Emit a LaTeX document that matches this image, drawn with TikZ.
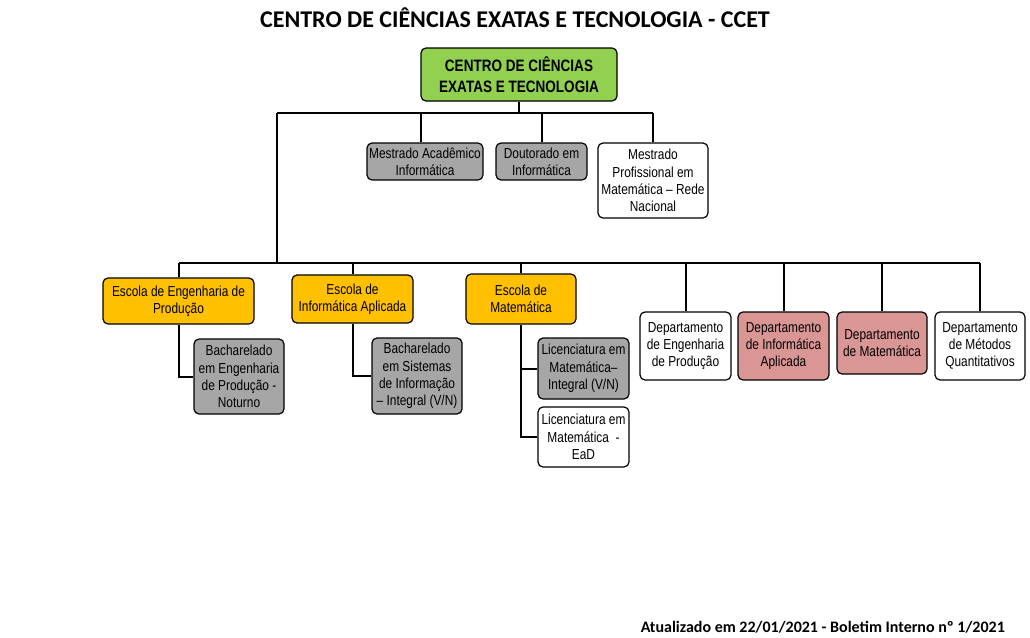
\documentclass[tikz,border=0pt]{standalone}
\usepackage{fontspec}
\setmainfont{Liberation Sans}
\newfontfamily\narrowfont[FakeStretch=0.82]{Liberation Sans}
\newfontfamily\titlefont{Carlito}
\definecolor{rootgreen}{HTML}{92D050}
\definecolor{schoolorange}{HTML}{FFC000}
\definecolor{coursegray}{HTML}{A6A6A6}
\definecolor{deptpink}{HTML}{D99694}
\tikzset{
  font={\narrowfont\fontsize{14.5pt}{17.3pt}\selectfont},
  box/.style={draw, rounded corners=5pt, line width=1.2pt, align=center, inner sep=0pt},
  rootbox/.style={box, fill=rootgreen, font={\narrowfont\bfseries\fontsize{16.5pt}{21pt}\selectfont}},
  school/.style={box, fill=schoolorange},
  course/.style={box, fill=coursegray},
  dept/.style={box, fill=deptpink},
  plain/.style={box, fill=white},
  link/.style={line width=2pt}}
\begin{document}
\begin{tikzpicture}[x=1pt, y=-1pt]
\useasboundingbox (0,0) rectangle (1030,637);
\node (title) at (515,18) {\titlefont\bfseries\fontsize{24pt}{27pt}\selectfont CENTRO DE CIÊNCIAS EXATAS E TECNOLOGIA - CCET};
\node (stamp) [anchor=east, inner sep=0pt] at (1005,627) {\titlefont\bfseries\fontsize{16pt}{19pt}\selectfont Atualizado em 22/01/2021 - Boletim Interno nº 1/2021};
% centre and graduate programmes
\node (ccet) [rootbox, minimum width=196pt, minimum height=53pt] at (519,74.5) {CENTRO DE CIÊNCIAS\\EXATAS E TECNOLOGIA};
\node (ma) [course, minimum width=116pt, minimum height=37pt] at (425,161.5) {Mestrado Acadêmico\\Informática};
\node (dout) [course, minimum width=91pt, minimum height=37pt] at (541.5,161.5) {Doutorado em\\Informática};
\node (mp) [plain, minimum width=110pt, minimum height=75pt] at (653,180.5) {Mestrado\\Profissional em\\Matemática – Rede\\Nacional};
% schools
\node (eep) [school, minimum width=151pt, minimum height=46pt] at (178.5,301) {Escola de Engenharia de\\Produção};
\node (eia) [school, minimum width=121pt, minimum height=48pt] at (352.5,299) {Escola de\\Informática Aplicada};
\node (em) [school, minimum width=110pt, minimum height=50pt] at (521,299) {Escola de\\Matemática};
% departments
\node (dep) [plain, minimum width=91pt, minimum height=68pt] at (685.5,346) {Departamento\\de Engenharia\\de Produção};
\node (dia) [dept, minimum width=91pt, minimum height=68pt] at (783.5,346) {Departamento\\de Informática\\Aplicada};
\node (dm) [dept, minimum width=90pt, minimum height=62pt] at (882,343) {Departamento\\de Matemática};
\node (dmq) [plain, minimum width=90pt, minimum height=68pt] at (980,346) {Departamento\\de Métodos\\Quantitativos};
% undergraduate courses
\node (bep) [course, minimum width=90pt, minimum height=75pt] at (239,376.5) {Bacharelado\\em Engenharia\\de Produção -\\Noturno};
\node (bsi) [course, minimum width=90pt, minimum height=76pt] at (417,376) {Bacharelado\\em Sistemas\\de Informação\\– Integral (V/N)};
\node (lmi) [course, minimum width=91pt, minimum height=61pt] at (583.5,368.5) {Licenciatura em\\Matemática–\\Integral (V/N)};
\node (lme) [plain, minimum width=91pt, minimum height=60pt] at (583.5,437) {Licenciatura em\\Matemática\ \ -\\EaD};
% connectors
\coordinate (t0) at (277,113);
\coordinate (t1) at (653,113);
\coordinate (m0) at (277,263);
\coordinate (m1) at (178.5,263);
\coordinate (m2) at (980,263);
\draw[link] (ccet) -- (ccet.south |- t0);
\draw[link] (t0) -- (t1);
\draw[link] ([xshift=-4pt]ma.north) -- ([xshift=-4pt]ma.north |- t0);
\draw[link] (dout) -- (dout.north |- t0);
\draw[link] (mp) -- (mp.north |- t0);
\draw[link] (t0) -- (m0);
\draw[link] (m1) -- (m2);
\draw[link] (eep) -- (eep.north |- m0);
\draw[link] (eia) -- (eia.north |- m0);
\draw[link] (em) -- (em.north |- m0);
\draw[link] (dep) -- (dep.north |- m0);
\draw[link] (dia) -- (dia.north |- m0);
\draw[link] (dm) -- (dm.north |- m0);
\draw[link] (dmq) -- (dmq.north |- m0);
\draw[link] (eep.south) |- (bep.west);
\draw[link] (eia.south) |- (bsi.west);
\draw[link] (em.south) |- (lmi.west);
\draw[link] (em.south) |- (lme.west);
\end{tikzpicture}
\end{document}
